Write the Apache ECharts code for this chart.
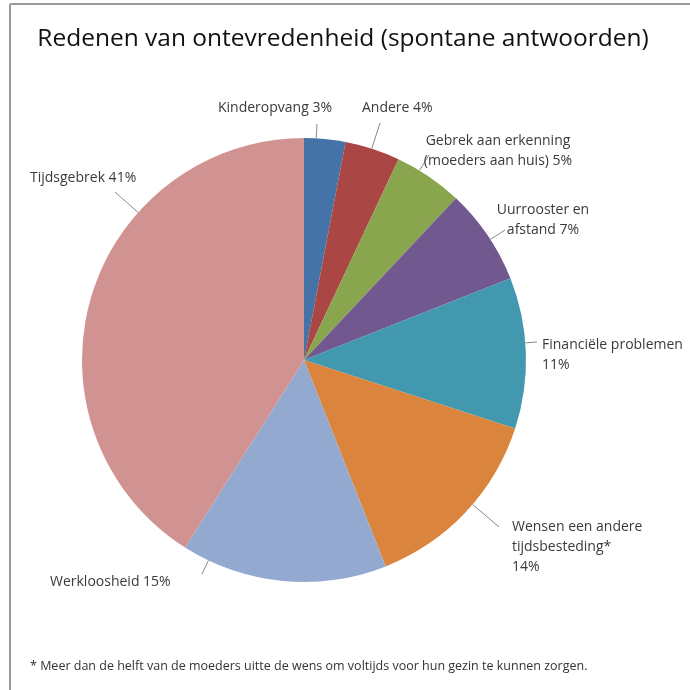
<!DOCTYPE html>
<html>
<head>
<meta charset="utf-8">
<script src="https://cdn.jsdelivr.net/npm/echarts@6/dist/echarts.min.js"></script>
<style>
  html, body { margin: 0; padding: 0; background: #fff; }
  #main { width: 690px; height: 690px; }
</style>
</head>
<body>
<div id="main"></div>
<script>
// reasons, clockwise from 12 o'clock
var categories = [
  'Kinderopvang',
  'Andere',
  'Gebrek aan erkenning\n(moeders aan huis)',
  'Uurrooster en\nafstand',
  'Financiële problemen\n',
  'Wensen een andere\ntijdsbesteding*\n',
  'Werkloosheid',
  'Tijdsgebrek'
];
var percents = [3, 4, 5, 7, 11, 14, 15, 41];
var colors = ['#4572A7', '#AA4643', '#89A54E', '#71588F', '#4198AF', '#DB843D', '#93A9CF', '#D19392'];

// label placement (same order as categories), tip = outer end of leader line
var labelPos = [
  { x: 218, y: 98, align: 'left', tip: [317, 124] },
  { x: 362, y: 98, align: 'left', tip: [380, 123] },
  { x: 498, y: 131, align: 'center', tip: [429, 155] },
  { x: 543, y: 200, align: 'center', tip: [505, 230] },
  { x: 542, y: 335, align: 'left', tip: [537, 342] },
  { x: 512, y: 517, align: 'left', tip: [499, 527] },
  { x: 50, y: 572, align: 'left', tip: [202, 574] },
  { x: 30, y: 168, align: 'left', tip: [115, 192] }
];

var CX = 304, CY = 360, R = 222;
var fontFam = '"Open Sans", "Noto Sans", sans-serif';

var chart = echarts.init(document.getElementById('main'), null, { renderer: 'canvas' });

var pieData = categories.map(function (name, i) {
  return { name: name, value: percents[i], itemStyle: { color: colors[i] } };
});

// leader line: from the rim, pointing at the tip
function leader(tip) {
  var dx = tip[0] - CX, dy = tip[1] - CY;
  var d = Math.sqrt(dx * dx + dy * dy);
  return [[CX + R * dx / d, CY + R * dy / d], tip];
}

var option = {
  animation: false,
  title: {
    text: 'Redenen van ontevredenheid (spontane antwoorden)',
    left: 338,
    top: 22,
    textAlign: 'center',
    textStyle: { fontFamily: fontFam, fontSize: 24.5, fontWeight: 'normal', color: '#111' }
  },
  graphic: [
    { type: 'line', shape: { x1: 10, y1: 4, x2: 690, y2: 4 }, style: { stroke: '#9a9a9a', lineWidth: 2 } },
    { type: 'line', shape: { x1: 10, y1: 4, x2: 10, y2: 690 }, style: { stroke: '#9a9a9a', lineWidth: 2 } },
    {
      type: 'text', left: 30, top: 660,
      style: {
        text: '* Meer dan de helft van de moeders uitte de wens om voltijds voor hun gezin te kunnen zorgen.',
        fontFamily: fontFam, fontSize: 12.5, fill: '#333'
      }
    }
  ],
  series: [{
    type: 'pie',
    center: [CX, CY],
    radius: R,
    startAngle: 90,
    clockwise: true,
    data: pieData,
    itemStyle: { borderWidth: 0 },
    label: {
      show: true,
      position: 'outside',
      formatter: function (p) {
        var sep = p.name.charAt(p.name.length - 1) === '\n' ? '' : ' ';
        return p.name + sep + p.value + '%';
      },
      fontFamily: fontFam,
      fontSize: 14,
      lineHeight: 20,
      color: '#3a3a3a',
      width: 200,
      overflow: 'none'
    },
    labelLine: {
      show: true,
      length: 14,
      length2: 0,
      lineStyle: { color: '#888', width: 1 }
    },
    labelLayout: function (params) {
      var p = labelPos[params.dataIndex];
      return {
        x: p.x, y: p.y, align: p.align, verticalAlign: 'top',
        labelLinePoints: leader(p.tip)
      };
    }
  }]
};

chart.setOption(option);
</script>
</body>
</html>
